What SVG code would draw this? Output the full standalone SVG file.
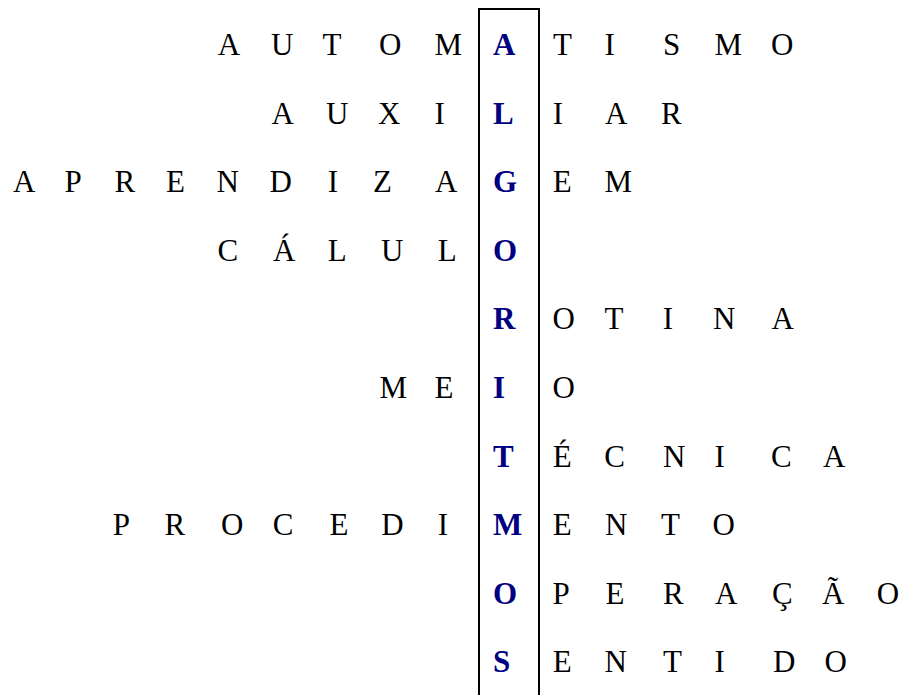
<svg xmlns="http://www.w3.org/2000/svg" width="900" height="695" viewBox="0 0 900 695">
<style>
.t{font-family:"Liberation Serif","Times New Roman",serif;font-size:31px;fill:#000}
.b{font-family:"Liberation Serif","Times New Roman",serif;font-size:31px;font-weight:bold;fill:#000080}
</style>
<rect width="900" height="695" fill="#fff"/>
<g id="box"><rect x="479" y="9" width="60" height="700" fill="none" stroke="#000" stroke-width="2"/></g>
<g id="key">
<text class="b" x="493" y="55">A</text>
<text class="b" x="493" y="123.6">L</text>
<text class="b" x="493" y="192.2">G</text>
<text class="b" x="493" y="260.8">O</text>
<text class="b" x="493" y="329.4">R</text>
<text class="b" x="493" y="398">I</text>
<text class="b" x="493" y="466.6">T</text>
<text class="b" x="493" y="535.2">M</text>
<text class="b" x="493" y="603.8">O</text>
<text class="b" x="493" y="672.4">S</text>
</g>
<g id="row1">
<text class="t" x="217.8 271 322.5 379 434.5" y="55">AUTOM</text>
<text class="t" x="553 604.5 663 714.5 771" y="55">TISMO</text>
</g>
<g id="row2">
<text class="t" x="271.5 326 378 434.5" y="123.6">AUXI</text>
<text class="t" x="552.8 605 661" y="123.6">IAR</text>
</g>
<g id="row3">
<text class="t" x="13 64.5 114.5 166 216.5 269.5 327.8 373 435" y="192.2">APRENDIZA</text>
<text class="t" x="552.8 604.5" y="192.2">EM</text>
</g>
<g id="row4">
<text class="t" x="217.5 273 327.8 381 437.8" y="260.8">CÁLUL</text>
</g>
<g id="row5">
<text class="t" x="552.5 604.5 662.8 713 771.5" y="329.4">OTINA</text>
</g>
<g id="row6">
<text class="t" x="379.5 434.5" y="398">ME</text>
<text class="t" x="552.5" y="398">O</text>
</g>
<g id="row7">
<text class="t" x="552.8 604.3 663 714.5 771 823" y="466.6">ÉCNICA</text>
</g>
<g id="row8">
<text class="t" x="112.8 164.5 221 272.8 329.5 381.2 437.8" y="535.2">PROCEDI</text>
<text class="t" x="552.8 605 661 712.5" y="535.2">ENTO</text>
</g>
<g id="row9">
<text class="t" x="552.5 605.5 663 715 772 822 876.7" y="603.8">PERAÇÃO</text>
</g>
<g id="row10">
<text class="t" x="552.8 604.5 663 714.5 773 824.5" y="672.4">ENTIDO</text>
</g>
</svg>
